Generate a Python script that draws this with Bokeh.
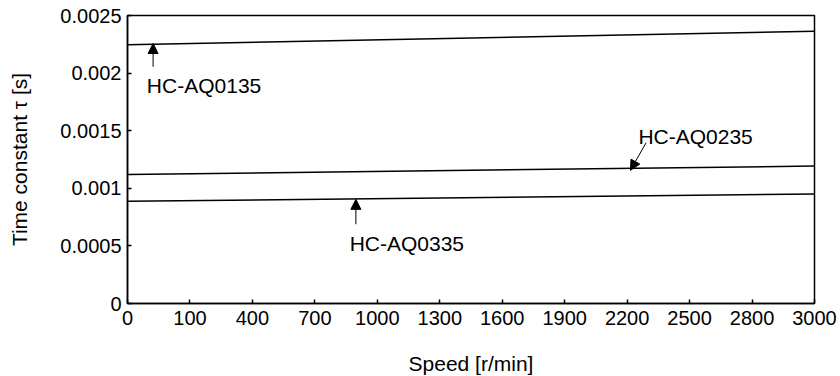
from bokeh.plotting import figure
from bokeh.models import FixedTicker, Arrow, NormalHead, ColumnDataSource, Range1d
from bokeh.core.properties import value
from bokeh.embed import file_html
from bokeh.resources import INLINE
import numpy as np

# x tick labels (speed, r/min) - evenly spaced on the axis as in the original
speed_ticks = [0, 100, 400, 700, 1000, 1300, 1600, 1900, 2200, 2500, 2800, 3000]
tick_pos = list(range(len(speed_ticks)))

# y ticks
y_ticks = [0, 0.0005, 0.001, 0.0015, 0.002, 0.0025]
y_tick_labels = ["0", "0.0005", "0.001", "0.0015", "0.002", "0.0025"]

# series: time constant at 0 and 3000 r/min
speed = [0, 3000]
aq0135 = [0.002246, 0.002364]
aq0235 = [0.001119, 0.001193]
aq0335 = [0.000887, 0.000950]

# annotation labels
labels = ["HC-AQ0135", "HC-AQ0235", "HC-AQ0335"]
label_speed = [31, 2254, 867]
label_val = [0.001896, 0.001451, 0.000525]
arrow_tail_speed = [41, 2291, 897]
arrow_tail_val = [0.002055, 0.001396, 0.000688]
arrow_tip_speed = [41, 2216, 897]
arrow_tip_val = [0.002257, 0.001156, 0.000904]


def pos(s):
    return list(np.interp(s, speed_ticks, tick_pos))


FONT = "Liberation Sans"

p = figure(frame_width=687, frame_height=288, output_backend="svg",
           toolbar_location=None,
           x_range=Range1d(0, len(speed_ticks) - 1), y_range=Range1d(0, 0.0025),
           min_border_left=127, min_border_top=15, min_border_right=25,
           min_border_bottom=70)
p.background_fill_color = "white"
p.border_fill_color = "white"
p.outline_line_color = "black"
p.outline_line_width = 1.5
p.xgrid.visible = False
p.ygrid.visible = False

for series in (aq0135, aq0235, aq0335):
    p.line(pos(speed), series, line_color="black", line_width=1.5)

p.xaxis.ticker = FixedTicker(ticks=tick_pos)
p.xaxis.major_label_overrides = {t: str(s) for t, s in zip(tick_pos, speed_ticks)}
p.yaxis.ticker = FixedTicker(ticks=y_ticks)
p.yaxis.major_label_overrides = {t: l for t, l in zip(y_ticks, y_tick_labels)}

p.xaxis.axis_label = "Speed [r/min]"
p.yaxis.axis_label = "Time constant τ [s]"

for ax in (p.xaxis[0], p.yaxis[0]):
    ax.axis_line_color = "black"
    ax.axis_line_width = 1.5
    ax.major_tick_in = 4
    ax.major_tick_out = 0
    ax.major_tick_line_color = "black"
    ax.major_tick_line_width = 1.5
    ax.minor_tick_line_color = None
    ax.major_label_text_font = FONT
    ax.major_label_text_font_size = "20px"
    ax.major_label_text_color = "black"
    ax.axis_label_text_font = FONT
    ax.axis_label_text_font_size = "21px"
    ax.axis_label_text_font_style = "normal"
    ax.axis_label_text_color = "black"

p.xaxis.major_label_standoff = 7
p.yaxis.major_label_standoff = 6
p.xaxis.axis_label_standoff = 24
p.yaxis.axis_label_standoff = 26

src = ColumnDataSource(dict(x=pos(label_speed), y=label_val, t=labels))
p.text(x="x", y="y", text="t", source=src, text_font=value(FONT),
       text_font_size="21px", text_color="black", text_baseline="alphabetic",
       text_align="left")

for ts, tv, hs, hv in zip(arrow_tail_speed, arrow_tail_val, arrow_tip_speed, arrow_tip_val):
    p.add_layout(Arrow(end=NormalHead(size=10, fill_color="black", line_color="black"),
                       x_start=pos([ts])[0], y_start=tv, x_end=pos([hs])[0], y_end=hv,
                       line_color="black", line_width=1))

open("out.html", "w").write(file_html(p, INLINE))
